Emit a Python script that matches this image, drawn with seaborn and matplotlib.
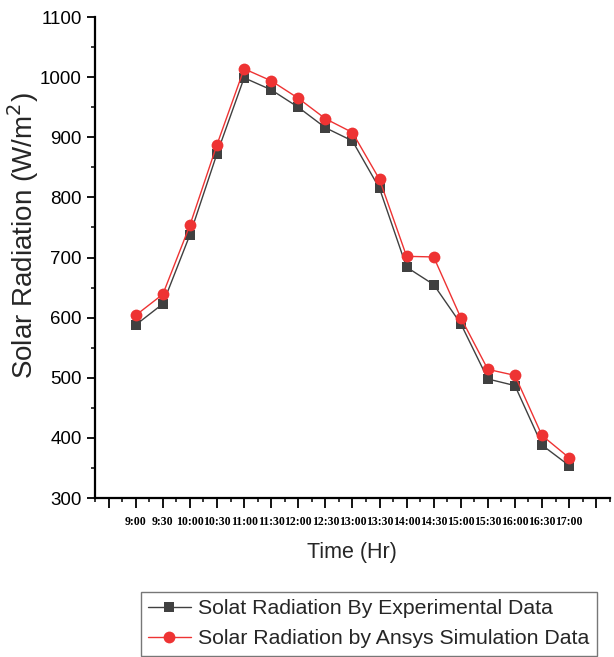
import matplotlib
matplotlib.use("Agg")
import matplotlib.pyplot as plt
from matplotlib.ticker import MultipleLocator
import seaborn as sns
import pandas as pd

times = ["9:00", "9:30", "10:00", "10:30", "11:00", "11:30", "12:00", "12:30",
         "13:00", "13:30", "14:00", "14:30", "15:00", "15:30", "16:00", "16:30", "17:00"]
experimental = [588, 623, 738, 873, 999, 979, 950, 916, 894, 815, 684, 655, 590, 498, 487, 388, 354]
simulation = [604, 639, 754, 888, 1014, 994, 965, 931, 908, 830, 702, 701, 600, 514, 504, 404, 367]
label_exp = "Solat Radiation By Experimental Data"
label_sim = "Solar Radiation by Ansys Simulation Data"

pos = list(range(1, len(times) + 1))
df_exp = pd.DataFrame({"pos": pos, "val": experimental})
df_sim = pd.DataFrame({"pos": pos, "val": simulation})

sns.set_style("ticks")
plt.rcParams["font.family"] = ["Liberation Sans", "DejaVu Sans"]

fig = plt.figure(figsize=(6.14, 6.57), dpi=100)
ax = fig.add_axes([0.155, 0.242, 0.838, 0.732])

sns.lineplot(data=df_exp, x="pos", y="val", ax=ax, color="#404040", linewidth=1.0,
             marker="s", markersize=7.5, markeredgewidth=0, label=label_exp)
sns.lineplot(data=df_sim, x="pos", y="val", ax=ax, color="#ee3333", linewidth=1.0,
             marker="o", markersize=8.5, markeredgewidth=0, label=label_sim)

ax.set_xlim(-0.5, 18.5)
ax.set_ylim(300, 1100)
ax.set_xticks(list(range(0, 19)))
ax.set_xticklabels([""] + times + [""], fontfamily=["Liberation Serif", "DejaVu Serif"],
                   fontsize=8.5, fontweight="bold")
ax.xaxis.set_minor_locator(MultipleLocator(0.5))
ax.yaxis.set_major_locator(MultipleLocator(100))
ax.yaxis.set_minor_locator(MultipleLocator(50))
ax.tick_params(axis="y", which="major", direction="out", length=6, width=1.3, labelsize=13.5, colors="black")
ax.tick_params(axis="y", which="minor", direction="out", length=3, width=1.3)
ax.tick_params(axis="x", which="major", direction="out", length=7, width=1.3, pad=6, colors="black")
ax.tick_params(axis="x", which="minor", direction="out", length=3, width=1.3)

for s in ["top", "right"]:
    ax.spines[s].set_visible(False)
for s in ["left", "bottom"]:
    ax.spines[s].set_linewidth(1.6)
    ax.spines[s].set_color("black")

ax.set_xlabel("Time (Hr)", fontsize=15.5, labelpad=10)
ax.set_ylabel("Solar Radiation (W/m$^2$)", fontsize=20)
ax.yaxis.set_label_coords(-0.105, 0.545)

ax.get_legend().remove()
handles, labels = ax.get_legend_handles_labels()
leg = fig.legend(handles, labels, loc="upper left", bbox_to_anchor=(0.229, 0.099),
                 fontsize=15.3, frameon=True, fancybox=False, edgecolor="#555555",
                 borderpad=0.35, handlelength=2.0, handletextpad=0.35, labelspacing=0.52,
                 borderaxespad=0)
leg.get_frame().set_linewidth(1.0)

fig.savefig("out.png", dpi=100)
